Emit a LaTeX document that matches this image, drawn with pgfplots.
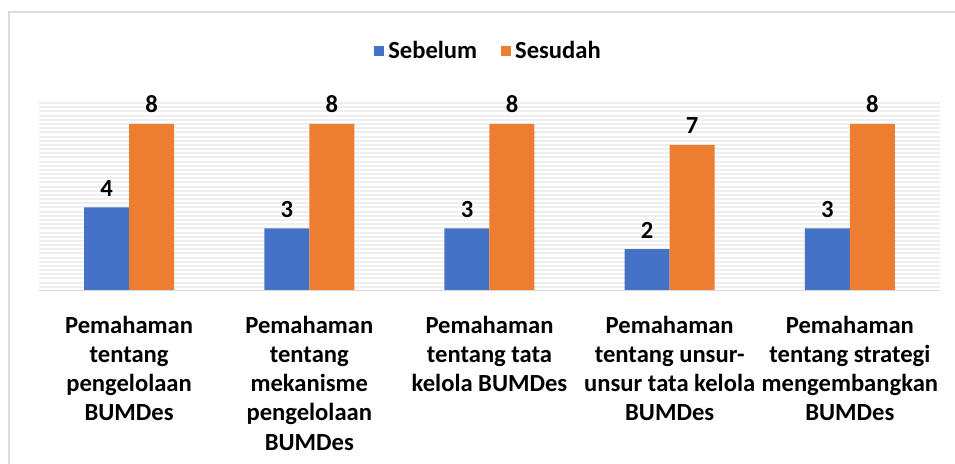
\documentclass[border=0pt]{standalone}
\usepackage{pgfplots}
\pgfplotsset{compat=1.18}
\usepackage{fontspec}
\setmainfont{Carlito}
\definecolor{cblue}{HTML}{4472C4}
\definecolor{corange}{HTML}{ED7D31}
\definecolor{gridc}{HTML}{EFEFEF}
\definecolor{framec}{HTML}{D9D9D9}
\begin{document}
\begin{tikzpicture}
\path[use as bounding box] (-19.5pt,-86.5pt) rectangle (458pt,145.5pt);
\draw[framec, line width=1pt] (-15pt,-100pt) -- (-15pt,139.5pt) -- (470pt,139.5pt);
\begin{axis}[
  at={(0,0)}, anchor=south west,
  scale only axis,
  width=450.5pt, height=95.5pt,
  xmin=-0.5, xmax=4.5,
  ymin=0, ymax=9.15,
  ybar=0pt, bar width=22.5pt,
  /pgf/number format/assume math mode=true,
  axis line style={draw=none},
  xtick={0,1,2,3,4},
  xticklabels={{Pemahaman\\tentang\\pengelolaan\\BUMDes},
               {Pemahaman\\tentang\\mekanisme\\pengelolaan\\BUMDes},
               {Pemahaman\\tentang tata\\kelola BUMDes},
               {Pemahaman\\tentang unsur-\\unsur tata kelola\\BUMDes},
               {Pemahaman\\tentang strategi\\mengembangkan\\BUMDes}},
  xticklabel style={align=center, font=\bfseries\fontsize{12.3}{14.6}\selectfont, anchor=north, yshift=-9pt},
  ytick={0.2,0.4,...,9.1},
  yticklabels={},
  major tick length=0pt,
  ymajorgrids=true,
  grid style={gridc, line width=1pt},
  nodes near coords,
  every node near coord/.append style={font=\bfseries\fontsize{12.3}{14}\selectfont, black, yshift=2pt},
  legend style={at={(0.5,1)}, anchor=south, yshift=15pt, draw=none, fill=none,
    legend columns=2, font=\bfseries\fontsize{12.3}{14}\selectfont,
    /tikz/every even column/.append style={column sep=10pt}},
  legend image code/.code={\fill (0pt,-2.5pt) rectangle (5pt,2.5pt);},
]
\addplot[fill=cblue, draw=none] coordinates {(0,4) (1,3) (2,3) (3,2) (4,3)};
\addplot[fill=corange, draw=none] coordinates {(0,8) (1,8) (2,8) (3,7) (4,8)};
\legend{Sebelum, Sesudah}
\draw[framec, line width=1pt] (axis cs:-0.5,0) -- (axis cs:4.5,0);
\end{axis}
\end{tikzpicture}
\end{document}
